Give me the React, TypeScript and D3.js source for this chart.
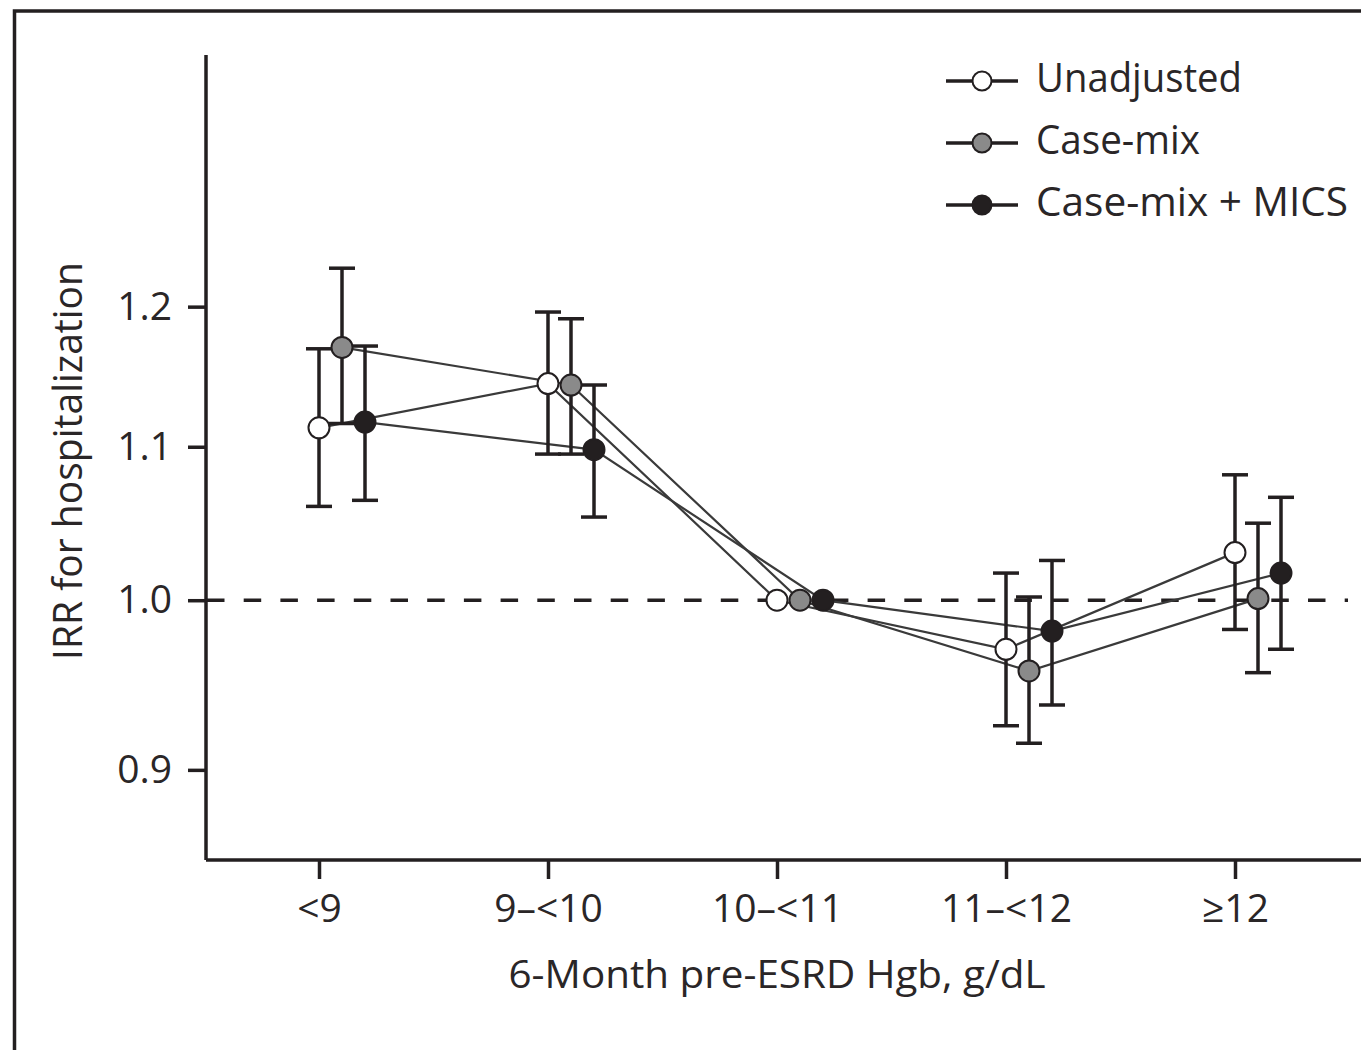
import React, { useRef, useEffect } from 'react';
import * as d3 from 'd3';

// Hgb categories and IRR estimates with 95% CI
const categories = ['<9', '9–<10', '10–<11', '11–<12', '≥12'];
const seriesNames = ['Unadjusted', 'Case-mix', 'Case-mix + MICS'];

const unadjusted = [1.113, 1.144, 1.0, 0.970, 1.030];
const unadjustedLow = [1.060, 1.095, null, 0.925, 0.982];
const unadjustedHigh = [1.169, 1.196, null, 1.017, 1.081];

const caseMix = [1.170, 1.143, 1.0, 0.957, 1.001];
const caseMixLow = [1.116, 1.095, null, 0.915, 0.956];
const caseMixHigh = [1.229, 1.191, null, 1.002, 1.049];

const mics = [1.117, 1.098, 1.0, 0.981, 1.017];
const micsLow = [1.064, 1.053, null, 0.937, 0.970];
const micsHigh = [1.171, 1.143, null, 1.025, 1.066];

const yTicks = [0.9, 1.0, 1.1, 1.2];

const INK = '#231f20';
const FONT = '"Open Sans", "Noto Sans", sans-serif';

const App = () => {
  const d3Container = useRef<SVGSVGElement | null>(null);

  useEffect(() => {
    if (!d3Container.current) return;
    const svg = d3.select(d3Container.current);
    svg.selectAll('*').remove();

    const width = 1361;
    const height = 1050;
    const left = 206;
    const bottom = 860;
    const top = 55;

    svg.attr('width', width).attr('height', height);

    // outer frame (only top + left edges visible)
    svg.append('path')
      .attr('d', `M14.5,${height} V11 H${width}`)
      .attr('fill', 'none')
      .attr('stroke', INK)
      .attr('stroke-width', 3.5);

    const x = d3.scalePoint<string>().domain(categories).range([319, 1235]);
    const offset = d3.scalePoint<string>().domain(seriesNames).range([0, 46]);
    const y = d3.scaleLog().domain([0.851, 1.403]).range([bottom, top]);

    const series = [
      { name: seriesNames[0], est: unadjusted, lo: unadjustedLow, hi: unadjustedHigh, fill: '#ffffff' },
      { name: seriesNames[1], est: caseMix, lo: caseMixLow, hi: caseMixHigh, fill: '#8a8a8a' },
      { name: seriesNames[2], est: mics, lo: micsLow, hi: micsHigh, fill: INK },
    ];

    // reference line at IRR = 1
    svg.append('line')
      .attr('x1', left)
      .attr('x2', 1348)
      .attr('y1', y(1))
      .attr('y2', y(1))
      .attr('stroke', INK)
      .attr('stroke-width', 3.5)
      .attr('stroke-dasharray', '17.5 19.2')
      .attr('stroke-dashoffset', -1);

    // axes
    const yAxis = svg.append('g')
      .attr('transform', `translate(${left},0)`)
      .call(d3.axisLeft(y).tickValues(yTicks).tickFormat(d3.format('.1f')).tickSize(18).tickPadding(16));
    yAxis.select('.domain').attr('d', `M0,${top} V${bottom}`);

    const xAxis = svg.append('g')
      .attr('transform', `translate(0,${bottom})`)
      .call(d3.axisBottom(x).tickSize(19).tickPadding(15));
    xAxis.select('.domain').attr('d', `M${left},0 H${width}`);

    [yAxis, xAxis].forEach(g => {
      g.selectAll('.domain').attr('stroke', INK).attr('stroke-width', 3.5).attr('fill', 'none');
      g.selectAll('.tick line').attr('stroke', INK).attr('stroke-width', 3.5);
      g.selectAll('.tick text')
        .attr('fill', '#2a2627')
        .style('font-family', FONT)
        .style('font-size', '39px');
    });

    // axis titles
    svg.append('text')
      .attr('x', 777)
      .attr('y', 988)
      .attr('text-anchor', 'middle')
      .attr('fill', '#2a2627')
      .style('font-family', FONT)
      .style('font-size', '39px')
      .attr('textLength', 537)
      .attr('lengthAdjust', 'spacingAndGlyphs')
      .text('6-Month pre-ESRD Hgb, g/dL');

    svg.append('text')
      .attr('transform', 'translate(82,461) rotate(-90)')
      .attr('text-anchor', 'middle')
      .attr('fill', '#2a2627')
      .style('font-family', FONT)
      .style('font-size', '40px')
      .attr('textLength', 398)
      .attr('lengthAdjust', 'spacingAndGlyphs')
      .text('IRR for hospitalization');

    const px = (s: any, i: number) => (x(categories[i]) as number) + (offset(s.name) as number);

    // connecting lines
    series.forEach(s => {
      const lg = d3.line<number>()
        .x((_, i) => px(s, i))
        .y(d => y(d));
      svg.append('path')
        .attr('d', lg(s.est))
        .attr('fill', 'none')
        .attr('stroke', '#3a3a3a')
        .attr('stroke-width', 2.2);
    });

    // error bars
    const cap = 13;
    series.forEach(s => {
      const g = svg.append('g').attr('stroke', INK).attr('stroke-width', 3.5);
      s.est.forEach((_, i) => {
        const lo = s.lo[i];
        const hi = s.hi[i];
        if (lo == null || hi == null) return;
        const cx = px(s, i);
        g.append('line').attr('x1', cx).attr('x2', cx).attr('y1', y(lo)).attr('y2', y(hi));
        g.append('line').attr('x1', cx - cap).attr('x2', cx + cap).attr('y1', y(lo)).attr('y2', y(lo));
        g.append('line').attr('x1', cx - cap).attr('x2', cx + cap).attr('y1', y(hi)).attr('y2', y(hi));
      });
    });

    // markers
    series.forEach(s => {
      svg.append('g')
        .selectAll('circle')
        .data(s.est)
        .enter().append('circle')
        .attr('cx', (_, i) => px(s, i))
        .attr('cy', d => y(d))
        .attr('r', 10.5)
        .attr('fill', s.fill)
        .attr('stroke', INK)
        .attr('stroke-width', 2);
    });

    // legend
    const legend = svg.append('g');
    const legendWidths = [206, 164, 312];
    series.forEach((s, i) => {
      const ly = 81 + i * 62;
      legend.append('line')
        .attr('x1', 946).attr('x2', 1018)
        .attr('y1', ly).attr('y2', ly)
        .attr('stroke', INK).attr('stroke-width', 3.5);
      legend.append('circle')
        .attr('cx', 982).attr('cy', ly).attr('r', 9.5)
        .attr('fill', s.fill).attr('stroke', INK).attr('stroke-width', 2);
      legend.append('text')
        .attr('x', 1036)
        .attr('y', ly + 11)
        .attr('fill', '#2a2627')
        .style('font-family', FONT)
        .style('font-size', '40px')
        .attr('textLength', legendWidths[i])
        .attr('lengthAdjust', 'spacingAndGlyphs')
        .text(s.name);
    });
  }, []);

  return (
    <div style={{ position: 'absolute', left: 0, top: 0, background: '#fff' }}>
      <svg ref={d3Container} style={{ display: 'block' }} />
    </div>
  );
};

export default App;
